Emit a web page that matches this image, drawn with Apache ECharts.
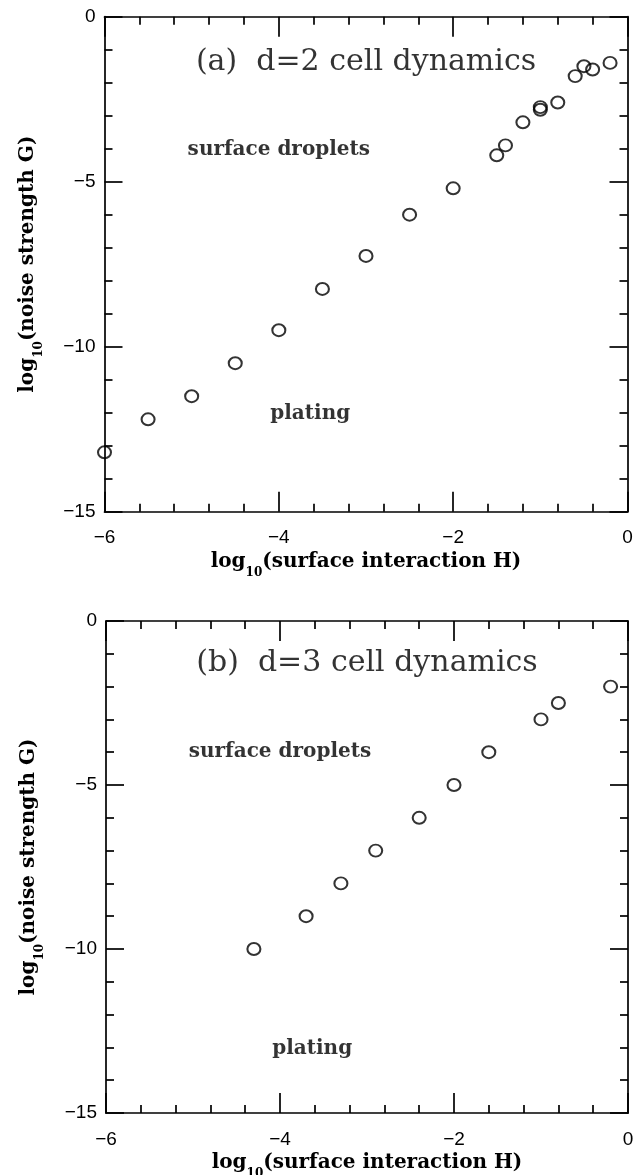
<!DOCTYPE html>
<html><head><meta charset="utf-8">
<script src="https://cdn.jsdelivr.net/npm/echarts@6/dist/echarts.min.js"></script>
<style>html,body{margin:0;padding:0;background:#fff}#c{width:633px;height:1175px}</style>
</head><body><div id="c"></div>
<script>
// ---- data ----
const panelA_H = [-6, -5.5, -5, -4.5, -4, -3.5, -3, -2.5, -2, -1.5, -1.4, -1.2, -1, -1, -0.8, -0.6, -0.5, -0.4, -0.2];
const panelA_G = [-13.2, -12.2, -11.5, -10.5, -9.5, -8.25, -7.25, -6.0, -5.2, -4.2, -3.9, -3.2, -2.74, -2.82, -2.6, -1.8, -1.5, -1.6, -1.4];
const panelB_H = [-4.3, -3.7, -3.3, -2.9, -2.4, -2.0, -1.6, -1.0, -0.8, -0.2];
const panelB_G = [-10, -9, -8, -7, -6, -5, -4, -3, -2.5, -2];

const xTickValues = [-6, -4, -2, 0];
const xTickLabels = ['\u22126', '\u22124', '\u22122', '0'];
const yTickValues = [0, -5, -10, -15];
const yTickLabels = ['0', '\u22125', '\u221210', '\u221215'];

const titles = ['(a)  d=2 cell dynamics', '(b)  d=3 cell dynamics'];
const titlePosH = [-3.0, -3.0];
const titlePosG = [-1.37, -1.28];
const regionText = ['surface droplets', 'plating'];
const regionPosA_H = [-4.0, -3.64];
const regionPosA_G = [-4.04, -12.04];
const regionPosB_H = [-4.0, -3.63];
const regionPosB_G = [-3.98, -13.05];

const xName = '{m|log}{s|10}{m|(surface interaction H)}';
const yName = '{m|log}{s|10}{m|(noise strength G)}';

// ---- chart ----
const SERIF = '"DejaVu Serif", "Liberation Serif", serif';
const SANS = '"Liberation Sans", Arial, sans-serif';
const richName = {
  m: {fontFamily: SERIF, fontSize: 20, fontWeight: 'bold', color: '#000', lineHeight: 27, verticalAlign: 'top'},
  s: {fontFamily: SERIF, fontSize: 12, fontWeight: 'bold', color: '#000', lineHeight: 12, verticalAlign: 'bottom'}
};
function fmt(vals, labels) { return v => { const i = vals.findIndex(t => Math.abs(t - v) < 1e-9); return i >= 0 ? labels[i] : ''; }; }
const lineStyle = {color: '#000', width: 1.7};

function xAxes(gi) {
  const base = {
    type: 'value', gridIndex: gi, min: -6, max: 0, interval: 2,
    splitLine: {show: false},
    axisLine: {show: true, onZero: false, lineStyle},
    axisTick: {show: true, inside: true, length: 20, lineStyle},
    minorTick: {show: true, splitNumber: 5, length: 8, lineStyle},
  };
  return [
    Object.assign({}, base, {position: 'bottom',
      axisLabel: {show: true, margin: 17, fontFamily: SANS, fontSize: 19, color: '#000', formatter: fmt(xTickValues, xTickLabels)},
      name: xName, nameLocation: 'middle', nameGap: 40, nameTextStyle: {rich: richName}}),
    Object.assign({}, base, {position: 'top', axisLabel: {show: false}})
  ];
}
function yAxes(gi) {
  const base = {
    type: 'value', gridIndex: gi, min: -15, max: 0, interval: 5,
    splitLine: {show: false},
    axisLine: {show: true, onZero: false, lineStyle},
    axisTick: {show: true, inside: true, length: 18, lineStyle},
    minorTick: {show: true, splitNumber: 5, length: 8, lineStyle},
  };
  return [
    Object.assign({}, base, {position: 'left',
      axisLabel: {show: true, margin: 9, fontFamily: SANS, fontSize: 19, color: '#000', formatter: fmt(yTickValues, yTickLabels)},
      name: yName, nameLocation: 'middle', nameGap: 60, nameTextStyle: {rich: richName}}),
    Object.assign({}, base, {position: 'right', axisLabel: {show: false}})
  ];
}

function pts(h, g) { return h.map((v, i) => [v, g[i]]); }

function dataSeries(idx, h, g) {
  return {
    type: 'scatter', xAxisIndex: idx * 2, yAxisIndex: idx * 2,
    data: pts(h, g), symbol: 'circle', symbolSize: [13, 12],
    itemStyle: {color: 'rgba(255,255,255,0)', borderColor: '#000', borderWidth: 2},
    silent: true, z: 5
  };
}
function textSeries(idx, texts, h, g, size, weight) {
  return {
    type: 'scatter', xAxisIndex: idx * 2, yAxisIndex: idx * 2,
    symbolSize: 0, silent: true,
    data: texts.map((t, i) => ({value: [h[i], g[i]], name: t})),
    label: {show: true, position: 'inside', formatter: p => p.name,
      fontFamily: SERIF, fontSize: size, fontWeight: weight, color: '#000'}
  };
}

const chart = echarts.init(document.getElementById('c'), null, {renderer: 'canvas'});
chart.setOption({
  backgroundColor: '#fff',
  animation: false,
  grid: [
    {left: 104.5, top: 16.7, width: 523, height: 495, containLabel: false, outerBoundsMode: 'none'},
    {left: 106, top: 621, width: 522, height: 492, containLabel: false, outerBoundsMode: 'none'}
  ],
  xAxis: xAxes(0).concat(xAxes(1)),
  yAxis: yAxes(0).concat(yAxes(1)),
  series: [
    dataSeries(0, panelA_H, panelA_G),
    dataSeries(1, panelB_H, panelB_G),
    textSeries(0, [titles[0]], [titlePosH[0]], [titlePosG[0]], 30, 'normal'),
    textSeries(1, [titles[1]], [titlePosH[1]], [titlePosG[1]], 30, 'normal'),
    textSeries(0, regionText, regionPosA_H, regionPosA_G, 20, 'bold'),
    textSeries(1, regionText, regionPosB_H, regionPosB_G, 20, 'bold')
  ]
});
</script></body></html>
